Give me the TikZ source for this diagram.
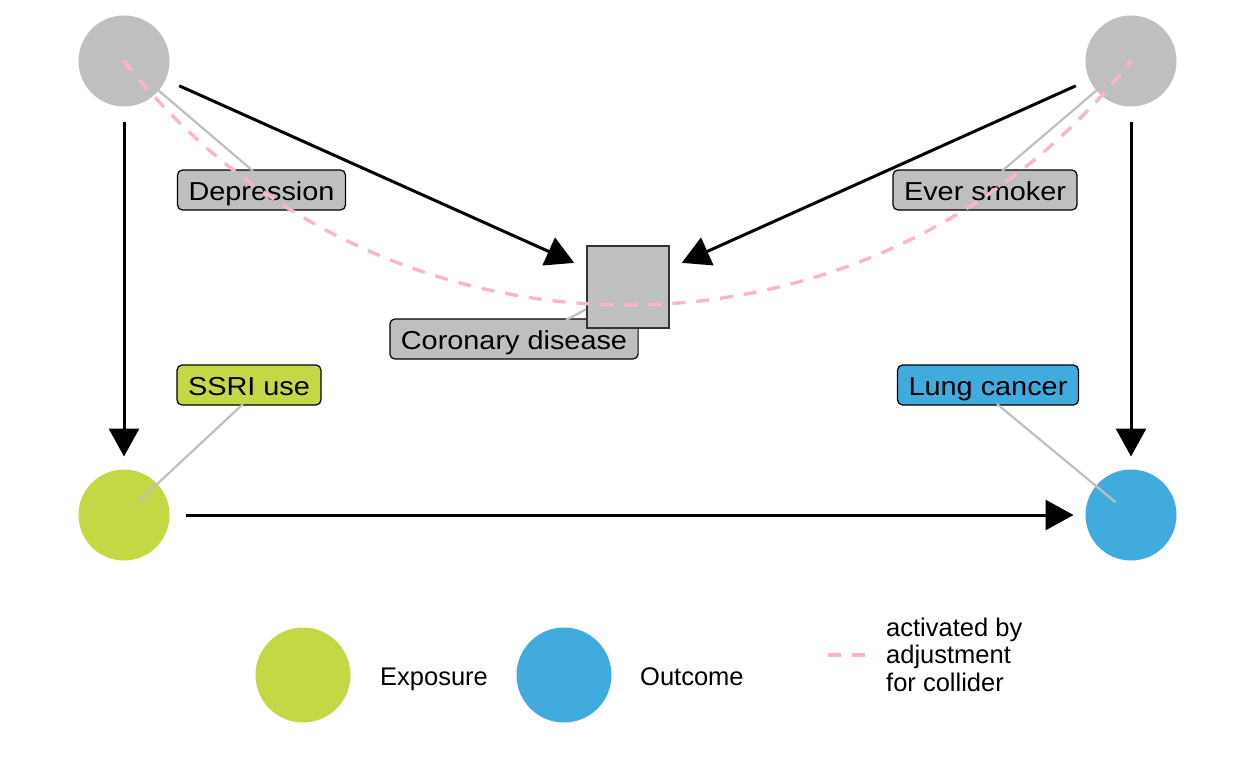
\documentclass[tikz,border=0pt]{standalone}
\usepackage{fontspec}
\setmainfont{Liberation Sans}
\newfontfamily\labfont[FakeStretch=1.11]{Liberation Sans}
\usetikzlibrary{arrows.meta}
\definecolor{nodegray}{RGB}{191,191,191}
\definecolor{expgreen}{RGB}{196,216,69}
\definecolor{outblue}{RGB}{66,171,221}
\definecolor{colpink}{RGB}{255,182,196}
\definecolor{sqborder}{RGB}{51,51,51}
\tikzset{
  dagnode/.style={circle, minimum size=91pt, inner sep=0pt, outer sep=0pt, draw=none},
  legnode/.style={circle, minimum size=95pt, inner sep=0pt, outer sep=0pt, draw=none},
  labbox/.style={draw=black, line width=1.2pt, rounded corners=5pt, inner xsep=11pt, inner ysep=7pt,
    text height=23pt, text depth=3pt, font=\labfont\fontsize{26}{30}\selectfont},
  labline/.style={draw=nodegray, line width=2.2pt},
  arr/.style={draw=black, line width=3pt, -{Triangle[length=28pt,width=30pt]}},
  collider/.style={draw=colpink, line width=3.4pt, dash pattern=on 13pt off 11pt},
  legtext/.style={inner sep=0pt, font=\fontsize{25.5}{27.3}\selectfont},
}
\begin{document}
\begin{tikzpicture}[x=1pt,y=-1pt]
\useasboundingbox (0,0) rectangle (1248,768);
% nodes
\node[dagnode, fill=nodegray] (dep) at (124,61) {};
\node[dagnode, fill=nodegray] (smk) at (1131,61) {};
\node[dagnode, fill=expgreen] (ssri) at (124,515) {};
\node[dagnode, fill=outblue] (lung) at (1131,515) {};
% label boxes
\node[labbox, fill=nodegray] (deplab) at (261.5,190) {Depression};
\node[labbox, fill=nodegray] (smklab) at (985,190) {Ever smoker};
\node[labbox, fill=nodegray] (corlab) at (514,339) {Coronary disease};
\node[labbox, fill=expgreen] (ssrilab) at (249,385) {SSRI use};
\node[labbox, fill=outblue] (lunglab) at (988,385) {Lung cancer};
% label line end points on the label boxes
\coordinate (corc) at (628,287);
\coordinate (depend) at (253,171);
\coordinate (smkend) at (1002,171);
\coordinate (ssriend) at (243,404);
\coordinate (lungend) at (997,404);
\coordinate (corend) at (566,320);
\draw[labline, shorten <=20pt] (dep.center) -- (depend);
\draw[labline, shorten <=20pt] (smk.center) -- (smkend);
\draw[labline, shorten <=20pt] (ssri.center) -- (ssriend);
\draw[labline, shorten <=20pt] (lung.center) -- (lungend);
\draw[labline] (corc) -- (corend);
% collider square
\node[rectangle, minimum size=82pt, inner sep=0pt, outer sep=0pt, fill=nodegray, draw=sqborder, line width=1.5pt] (cor) at (corc) {};
% edges
\draw[arr, shorten <=15pt, shorten >=13pt] (dep) -- (ssri);
\draw[arr, shorten <=15pt, shorten >=13pt] (smk) -- (lung);
\draw[arr, shorten <=16pt, shorten >=12pt] (ssri) -- (lung);
\draw[arr, shorten <=15pt, shorten >=14pt] (dep) -- (cor);
\draw[arr, shorten <=15pt, shorten >=14pt] (smk) -- (cor);
% collider path
\draw[collider] (dep.center) .. controls (380.8,386.3) and (874.2,386.3) .. (smk.center);
% legend
\node[legnode, fill=expgreen] (legexp) at (303,675) {};
\node[legtext, anchor=base west] (legexpt) at (380,685) {Exposure};
\node[legnode, fill=outblue] (legout) at (564,675) {};
\node[legtext, anchor=base west] (legoutt) at (640,685) {Outcome};
\coordinate (legda) at (828,655);
\coordinate (legdb) at (866,655);
\draw[collider, dash pattern=on 13pt off 11pt] (legda) -- (legdb);
\node[legtext, anchor=base west, align=left] (legcol) at (886,691) {activated by\\adjustment\\for collider};
\end{tikzpicture}
\end{document}
